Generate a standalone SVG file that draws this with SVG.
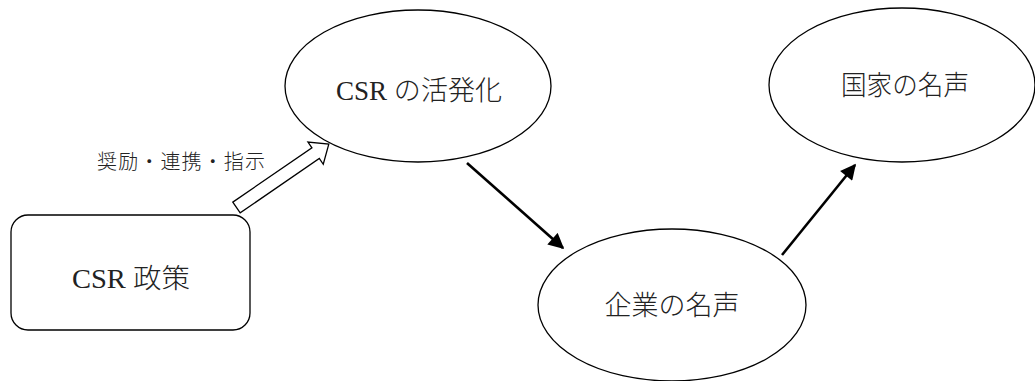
<svg xmlns="http://www.w3.org/2000/svg" width="1035" height="381" viewBox="0 0 1035 381">
<style>
.shape{fill:#fff;stroke:#000;stroke-width:1.3}
.t{font-family:"Liberation Serif","Noto Sans CJK JP",serif;font-size:27px;fill:#222;text-anchor:middle;font-weight:300}
.lbl{font-family:"Noto Sans CJK JP",sans-serif;font-size:20px;fill:#222;font-weight:300}
.conn{stroke:#000;stroke-width:2.6;fill:none}
</style>
<defs>
<marker id="ah" viewBox="0 0 10 10" refX="9" refY="5" markerWidth="6.5" markerHeight="6" markerUnits="strokeWidth" orient="auto">
<path d="M0,0 L10,5 L0,10 z" fill="#000"/>
</marker>
</defs>
<rect width="1035" height="381" fill="#fff"/>
<g id="connectors">
<polygon id="hollow-arrow" class="shape" points="0,-6.5 96,-6.5 96,-13.5 112,0 96,13.5 96,6.5 0,6.5" transform="translate(236.5,207.5) rotate(-34.5)"/>
<line class="conn" x1="467" y1="163" x2="563" y2="248" marker-end="url(#ah)"/>
<line class="conn" x1="782" y1="255" x2="855" y2="165" marker-end="url(#ah)"/>
<text class="lbl" x="97" y="169" textLength="168" lengthAdjust="spacing">奨励・連携・指示</text>
</g>
<g id="node-policy">
<rect class="shape" x="11" y="215" width="239" height="115" rx="17"/>
<text class="t" x="131" y="288" textLength="118" lengthAdjust="spacingAndGlyphs">CSR 政策</text>
</g>
<g id="node-csr">
<ellipse class="shape" cx="418" cy="86" rx="133" ry="76"/>
<text class="t" x="419" y="100" textLength="166" lengthAdjust="spacingAndGlyphs">CSR の活発化</text>
</g>
<g id="node-company">
<ellipse class="shape" cx="672" cy="305" rx="134" ry="76"/>
<text class="t" x="672" y="315" textLength="135" lengthAdjust="spacingAndGlyphs">企業の名声</text>
</g>
<g id="node-nation">
<ellipse class="shape" cx="902" cy="85" rx="133" ry="77"/>
<text class="t" x="905" y="95" textLength="128" lengthAdjust="spacingAndGlyphs">国家の名声</text>
</g>
</svg>
